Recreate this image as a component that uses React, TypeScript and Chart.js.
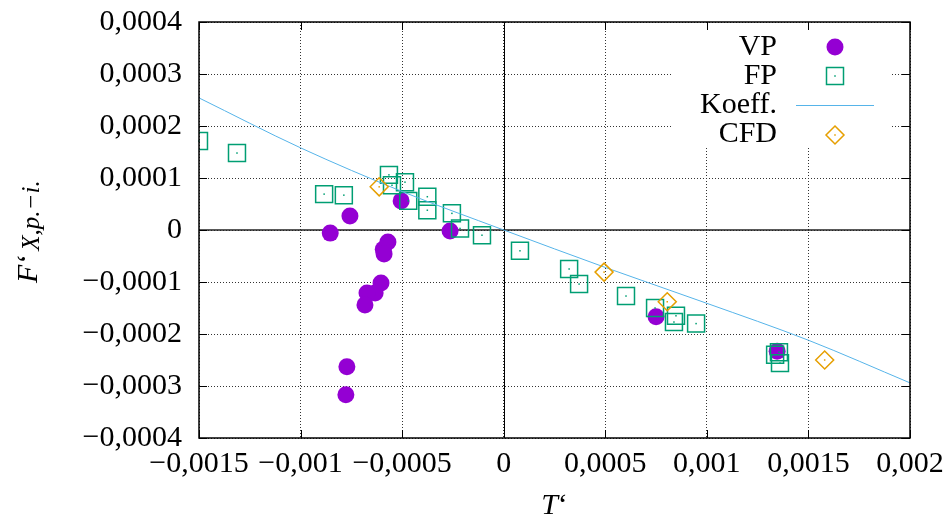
import { useEffect, useRef } from 'react';
import { Chart, registerables } from 'chart.js';

Chart.register(...registerables);

// ---- data ----
const vpX = [-0.000854, -0.000757, -0.000505, -0.000264, -0.00057, -0.000593, -0.000589, -0.000604, -0.000633, -0.000673, -0.000683, -0.000772, -0.000777, 0.00075, 0.001346];
const vpY = [-0.000006, 0.000027, 0.000056, -0.000002, -0.000023, -0.000037, -0.000046, -0.000102, -0.000121, -0.000121, -0.000144, -0.000263, -0.000317, -0.000167, -0.000233];

const fpX = [-0.0015, -0.001313, -0.000884, -0.000787, -0.000565, -0.00055, -0.000486, -0.00047, -0.000376, -0.000376, -0.000255, -0.000215, -0.000107, 0.00008, 0.000322, 0.000371, 0.000602, 0.000745, 0.000848, 0.000838, 0.000947, 0.001336, 0.001355, 0.00136];
const fpY = [0.000171, 0.000148, 0.000069, 0.000067, 0.000106, 0.000086, 0.000092, 0.000056, 0.000064, 0.000038, 0.000032, 0.000003, -0.00001, -0.00004, -0.000075, -0.000104, -0.000127, -0.00015, -0.000165, -0.000177, -0.00018, -0.00024, -0.000235, -0.000256];

const koeffX = [-0.0015, -0.001, -0.0005, 0, 0.0005, 0.001, 0.0015, 0.002];
const koeffY = [0.000254, 0.000158, 0.000074, 0, -0.000072, -0.000141, -0.000212, -0.000294];

const cfdX = [-0.000613, 0.000494, 0.000805, 0.00158];
const cfdY = [0.000083, -0.000081, -0.000138, -0.00025];

const seriesLabels = ['VP', 'FP', 'Koeff.', 'CFD'];

const xTickValues = [-0.0015, -0.001, -0.0005, 0, 0.0005, 0.001, 0.0015, 0.002];
const xTickLabels = ['\u22120,0015', '\u22120,001', '\u22120,0005', '0', '0,0005', '0,001', '0,0015', '0,002'];
const yTickValues = [-0.0004, -0.0003, -0.0002, -0.0001, 0, 0.0001, 0.0002, 0.0003, 0.0004];
const yTickLabels = ['\u22120,0004', '\u22120,0003', '\u22120,0002', '\u22120,0001', '0', '0,0001', '0,0002', '0,0003', '0,0004'];

const xTitleMain = 'T';
const xTitleMark = '\u2018';
const yTitleMain = 'F';
const yTitleMark = '\u2018';
const yTitleSub = 'X,p.\u2212i.';

// ---- styles ----
const FONT = '"Liberation Serif", "Times New Roman", serif';
const C_VP = '#9400d3';
const C_FP = '#009e73';
const C_KO = '#56b4e9';
const C_CFD = '#e69f00';

const pts = (xs: number[], ys: number[]) => xs.map((x, i) => ({ x, y: ys[i] }));

const gnuplotLook = {
  id: 'gnuplotLook',
  beforeDatasetsDraw(chart: any) {
    const { ctx, chartArea: a, scales } = chart;
    const sx = scales.x;
    const sy = scales.y;
    ctx.save();
    ctx.strokeStyle = '#222';
    // horizontal zero axis
    ctx.lineWidth = 1.6;
    const y0 = Math.round(sy.getPixelForValue(0));
    ctx.beginPath();
    ctx.moveTo(a.left, y0);
    ctx.lineTo(a.right, y0);
    ctx.stroke();
    // vertical zero axis
    ctx.strokeStyle = '#000';
    ctx.lineWidth = 1;
    const x0 = Math.round(sx.getPixelForValue(0)) + 0.5;
    ctx.beginPath();
    ctx.moveTo(x0, a.top);
    ctx.lineTo(x0, a.bottom);
    ctx.stroke();
    // opaque key box
    ctx.fillStyle = '#fff';
    ctx.fillRect(673, a.top + 1, 219, 148 - a.top - 1);
    ctx.restore();
  },
  afterDatasetsDraw(chart: any) {
    const { ctx, chartArea: a, scales } = chart;
    const sx = scales.x;
    const sy = scales.y;
    ctx.save();
    // center dots on open markers
    [[1, C_FP], [3, C_CFD]].forEach(([di, col]: any) => {
      const meta = chart.getDatasetMeta(di);
      ctx.fillStyle = col;
      meta.data.forEach((el: any) => ctx.fillRect(el.x - 0.75, el.y - 0.75, 1.5, 1.5));
    });
    // border
    ctx.strokeStyle = '#000';
    ctx.lineWidth = 1.5;
    ctx.strokeRect(a.left, a.top, a.right - a.left, a.bottom - a.top);
    // inward ticks on all four sides
    ctx.lineWidth = 1;
    ctx.beginPath();
    xTickValues.forEach((v) => {
      const px = Math.round(sx.getPixelForValue(v)) + 0.5;
      ctx.moveTo(px, a.bottom);
      ctx.lineTo(px, a.bottom - 8);
      ctx.moveTo(px, a.top);
      ctx.lineTo(px, a.top + 8);
    });
    yTickValues.forEach((v) => {
      const py = Math.round(sy.getPixelForValue(v)) + 0.5;
      ctx.moveTo(a.left, py);
      ctx.lineTo(a.left + 8, py);
      ctx.moveTo(a.right, py);
      ctx.lineTo(a.right - 8, py);
    });
    ctx.stroke();

    // key
    const textRight = 777;
    const markX = 835;
    const baselines = [55, 84, 113, 142];
    const centers = [47, 76, 105, 135];
    ctx.font = `30px ${FONT}`;
    ctx.fillStyle = '#000';
    ctx.textAlign = 'right';
    ctx.textBaseline = 'alphabetic';
    seriesLabels.forEach((lab, i) => ctx.fillText(lab, textRight, baselines[i]));
    // VP marker
    ctx.fillStyle = C_VP;
    ctx.beginPath();
    ctx.arc(markX, centers[0], 8.5, 0, Math.PI * 2);
    ctx.fill();
    // FP marker
    ctx.strokeStyle = C_FP;
    ctx.lineWidth = 1.5;
    ctx.strokeRect(markX - 8.5, centers[1] - 8.5, 17, 17);
    ctx.fillStyle = C_FP;
    ctx.fillRect(markX - 0.75, centers[1] - 0.75, 1.5, 1.5);
    // Koeff line
    ctx.strokeStyle = C_KO;
    ctx.lineWidth = 1;
    ctx.beginPath();
    ctx.moveTo(796, centers[2] + 0.5);
    ctx.lineTo(874, centers[2] + 0.5);
    ctx.stroke();
    // CFD marker
    ctx.strokeStyle = C_CFD;
    ctx.lineWidth = 1.5;
    ctx.beginPath();
    ctx.moveTo(markX, centers[3] - 9);
    ctx.lineTo(markX + 9, centers[3]);
    ctx.lineTo(markX, centers[3] + 9);
    ctx.lineTo(markX - 9, centers[3]);
    ctx.closePath();
    ctx.stroke();
    ctx.fillStyle = C_CFD;
    ctx.fillRect(markX - 0.75, centers[3] - 0.75, 1.5, 1.5);

    // x title
    ctx.fillStyle = '#000';
    ctx.textAlign = 'left';
    ctx.font = `italic 30px ${FONT}`;
    const wT = ctx.measureText(xTitleMain).width;
    ctx.font = `30px ${FONT}`;
    const wM = ctx.measureText(xTitleMark).width;
    const xStart = (a.left + a.right) / 2 - (wT + wM) / 2;
    ctx.font = `italic 30px ${FONT}`;
    ctx.fillText(xTitleMain, xStart, 514);
    ctx.font = `30px ${FONT}`;
    ctx.fillText(xTitleMark, xStart + wT, 514);

    // y title (rotated)
    ctx.save();
    ctx.translate(37, 283);
    ctx.rotate(-Math.PI / 2);
    ctx.font = `italic 30px ${FONT}`;
    ctx.fillText(yTitleMain, 0, 0);
    const wF = ctx.measureText(yTitleMain).width;
    ctx.font = `30px ${FONT}`;
    ctx.fillText(yTitleMark, wF + 1, 0);
    const wQ = ctx.measureText(yTitleMark).width;
    ctx.font = `italic 25px ${FONT}`;
    ctx.fillText(yTitleSub, wF + wQ + 4, 2);
    ctx.restore();

    ctx.restore();
  },
};

export default function App() {
  const ref = useRef<HTMLCanvasElement | null>(null);

  useEffect(() => {
    const canvas = ref.current;
    if (!canvas) return;
    const chart = new Chart(canvas, {
      type: 'scatter',
      data: {
        datasets: [
          {
            label: seriesLabels[0],
            data: pts(vpX, vpY),
            pointStyle: 'circle',
            pointRadius: 8.5,
            pointBackgroundColor: C_VP,
            pointBorderColor: C_VP,
            pointBorderWidth: 0,
            order: 4,
          },
          {
            label: seriesLabels[1],
            data: pts(fpX, fpY),
            pointStyle: 'rect',
            pointRadius: 12,
            pointBackgroundColor: 'rgba(0,0,0,0)',
            pointBorderColor: C_FP,
            pointBorderWidth: 1.5,
            order: 3,
          },
          {
            label: seriesLabels[2],
            data: pts(koeffX, koeffY),
            showLine: true,
            pointRadius: 0,
            borderColor: C_KO,
            borderWidth: 1,
            cubicInterpolationMode: 'monotone',
            order: 2,
          },
          {
            label: seriesLabels[3],
            data: pts(cfdX, cfdY),
            pointStyle: 'rectRot',
            pointRadius: 9,
            pointBackgroundColor: 'rgba(0,0,0,0)',
            pointBorderColor: C_CFD,
            pointBorderWidth: 1.5,
            order: 1,
          },
        ],
      } as any,
      options: {
        responsive: false,
        animation: false,
        devicePixelRatio: 1,
        layout: { padding: { top: 22, right: 38, bottom: 0, left: 0 } },
        plugins: { legend: { display: false }, tooltip: { enabled: false } },
        scales: {
          x: {
            type: 'linear',
            min: -0.0015,
            max: 0.002,
            afterBuildTicks: (s: any) => {
              s.ticks = xTickValues.map((v) => ({ value: v }));
            },
            afterFit: (s: any) => {
              s.height = 82;
              s.paddingLeft = 0;
              s.paddingRight = 0;
            },
            ticks: {
              autoSkip: false,
              maxRotation: 0,
              minRotation: 0,
              padding: 8,
              color: '#000',
              font: { family: FONT, size: 30 },
              callback: (_v: any, i: number) => xTickLabels[i],
            },
            grid: { color: '#333', lineWidth: 1, drawTicks: false },
            border: { display: false, dash: [1, 2] },
          },
          y: {
            type: 'linear',
            min: -0.0004,
            max: 0.0004,
            afterBuildTicks: (s: any) => {
              s.ticks = yTickValues.map((v) => ({ value: v }));
            },
            afterFit: (s: any) => {
              s.width = 199;
              s.paddingTop = 0;
              s.paddingBottom = 0;
            },
            ticks: {
              autoSkip: false,
              padding: 17,
              color: '#000',
              font: { family: FONT, size: 30 },
              callback: (_v: any, i: number) => yTickLabels[i],
            },
            grid: { color: '#333', lineWidth: 1, drawTicks: false },
            border: { display: false, dash: [1, 2] },
          },
        },
      } as any,
      plugins: [gnuplotLook],
    });
    return () => chart.destroy();
  }, []);

  return (
    <div style={{ position: 'fixed', left: 0, top: 0, width: 948, height: 520, background: '#fff' }}>
      <canvas ref={ref} width={948} height={520} style={{ display: 'block' }} />
    </div>
  );
}
